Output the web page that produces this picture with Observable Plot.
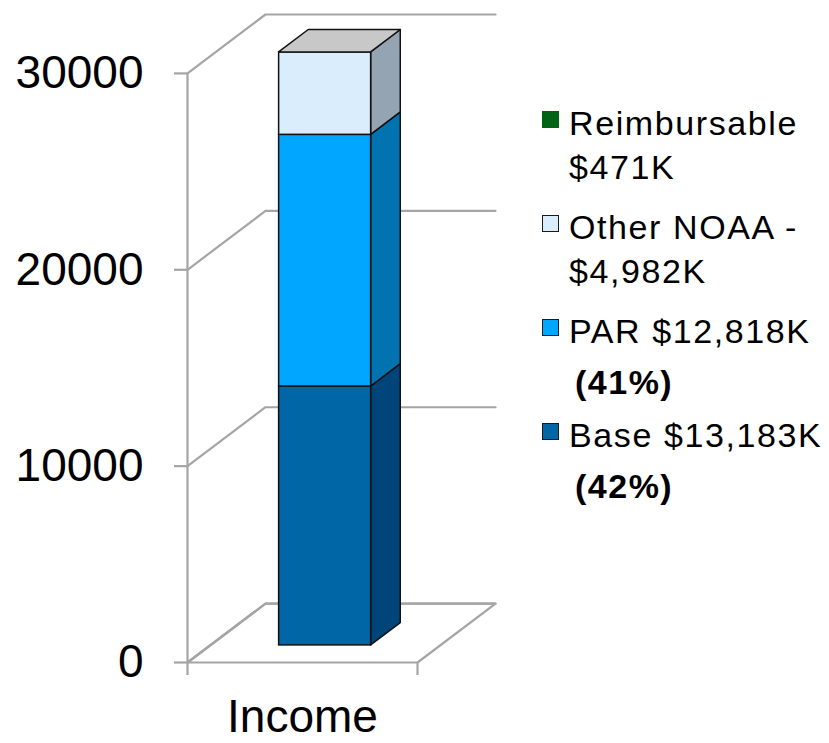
<!DOCTYPE html>
<html><head><meta charset="utf-8">
<script src="https://cdn.jsdelivr.net/npm/d3@7"></script>
<script src="https://cdn.jsdelivr.net/npm/@observablehq/plot@0.6"></script>
<style>
html,body{margin:0;padding:0;background:#fff;}
#wrap{position:relative;width:829px;height:743px;font-family:"Liberation Sans",Arial,sans-serif;overflow:hidden;}
#wrap svg{position:absolute;left:0;top:0;}
.lg{position:absolute;font-size:34px;line-height:34px;letter-spacing:1.6px;color:#000;white-space:nowrap;}
.lg.b{font-weight:bold;letter-spacing:1.5px;}
.sw{position:absolute;width:15px;height:15px;border:1.5px solid #1a1a1a;}
</style></head><body><div id="wrap"></div>
<script>
// ---- data ----
const category = ["Income"];
const series = ["Base", "PAR", "Other NOAA", "Reimbursable"];
const values = [13183, 12818, 4200, 0];          // bar heights
const legendNames = ["Reimbursable", "Other NOAA -", "PAR $12,818K", "Base $13,183K"];
const legendSecond = ["$471K", "$4,982K", "(41%)", "(42%)"];
const legendSeries = ["Reimbursable", "Other NOAA", "PAR", "Base"];
const yTicks = [0, 10000, 20000, 30000];

// ---- styles ----
const frontColor = {"Base": "#0066a6", "PAR": "#00a6ff", "Other NOAA": "#d9edfc", "Reimbursable": "#006414"};
const sideColor  = {"Base": "#00457a", "PAR": "#0073b0", "Other NOAA": "#95a4b2", "Reimbursable": "#003c0c"};
const topColor = "#c8c8c8";
const grid = "#a5a5a5";
const dX = 0.339, dY = 3000;      // oblique depth offset (x units, value units)
const bx0 = 0.3, bx1 = 0.7, z1 = 0.29, z2 = 0.67;

// stacked segments
let acc = 0;
const segs = series.map((s, i) => { const lo = acc; acc += values[i]; return {s, lo, hi: acc}; })
  .filter(d => d.hi > d.lo);
const total = acc;

const front = segs.map(d => ({s: d.s, x1: bx0 + dX*z1, x2: bx1 + dX*z1, y1: d.lo + dY*z1, y2: d.hi + dY*z1}));
const side = segs.flatMap(d => [z1, z2].map(z => ({s: d.s, x: bx1 + dX*z, y1: d.lo + dY*z, y2: d.hi + dY*z})));
const topFace = [z1, z2].map(z => ({y: total + dY*z, x1: bx0 + dX*z, x2: bx1 + dX*z}));
const gridPts = yTicks.flatMap(t => [{t, x: 0, y: t}, {t, x: dX, y: t + dY}, {t, x: 1 + dX, y: t + dY}]);
const floorPts = [[0,0],[1,0],[1+dX,dY],[dX,dY]].map(([x,y]) => ({x, y}));

const chart = Plot.plot({
  width: 829, height: 743,
  marginLeft: 187, marginRight: 334, marginTop: 14, marginBottom: 81,
  x: {domain: [0, 1 + dX]},
  y: {domain: [0, 30000 + dY]},
  style: {fontFamily: "'Liberation Sans', Arial, sans-serif", fontSize: "46px", background: "transparent", overflow: "visible"},
  marks: [
    Plot.line(gridPts, {x: "x", y: "y", z: "t", stroke: grid, strokeWidth: 2.2}),
    Plot.line(floorPts, {x: "x", y: "y", stroke: grid, strokeWidth: 2.2, curve: "linear-closed"}),
    Plot.ruleX([0], {y1: 0, y2: 30000, stroke: grid, strokeWidth: 2.2}),
    Plot.axisY(yTicks, {tickSize: 13, tickPadding: 31, tickFormat: d3.format("d"), stroke: grid, strokeWidth: 2.2, fill: "black", fontSize: 46, label: null}),
    Plot.axisX([0, 1], {tickSize: 13, tickFormat: () => "", stroke: grid, strokeWidth: 2.2, label: null}),
    Plot.axisX([0.5], {tickSize: 0, tickPadding: 37, tickFormat: (d, i) => category[0], fill: "black", fontSize: 46, label: null}),
    Plot.areaY(side, {x: "x", y1: "y1", y2: "y2", z: "s", fill: d => sideColor[d.s], stroke: "#111", strokeWidth: 1.5}),
    Plot.rect(front, {x1: "x1", x2: "x2", y1: "y1", y2: "y2", fill: d => frontColor[d.s], stroke: "#111", strokeWidth: 1.5}),
    Plot.areaX(topFace, {y: "y", x1: "x1", x2: "x2", fill: topColor, stroke: "#111", strokeWidth: 1.5})
  ]
});
const wrap = document.getElementById("wrap");
wrap.appendChild(chart);

// legend (HTML)
legendNames.forEach((name, i) => {
  const base1 = 135 + i * 104;
  const base2 = base1 + (i < 2 ? 44 : 51);
  const bold = i >= 2;
  const sw = document.createElement("div");
  sw.className = "sw";
  sw.style.left = "542px";
  sw.style.top = (base1 - 24) + "px";
  sw.style.background = frontColor[legendSeries[i]];
  if (legendSeries[i] === "Reimbursable") sw.style.borderColor = frontColor[legendSeries[i]];
  wrap.appendChild(sw);
  const t1 = document.createElement("div");
  t1.className = "lg"; t1.textContent = name;
  t1.style.left = "569px"; t1.style.top = (base1 - 29) + "px";
  wrap.appendChild(t1);
  const t2 = document.createElement("div");
  t2.className = "lg" + (bold ? " b" : ""); t2.textContent = legendSecond[i];
  t2.style.left = (bold ? 575 : 569) + "px"; t2.style.top = (base2 - 29) + "px";
  wrap.appendChild(t2);
});
</script></body></html>
